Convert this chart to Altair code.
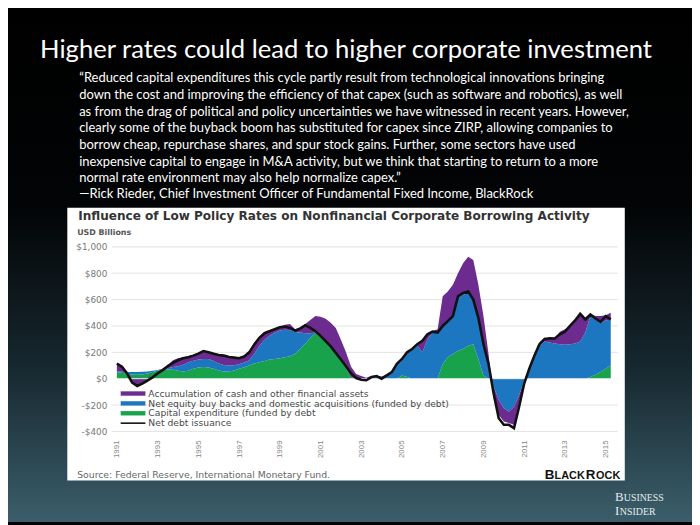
import altair as alt
import pandas as pd

# ---------------- data (quarterly, 1991Q1 .. 2015Q2), USD billions ----------------
quarters = [1991 + 0.25 * i for i in range(98)]

net_debt = [
    115, 90, 40, -30,
    -55, -38, -15, 10,
    40, 65, 95, 120,
    140, 155, 162, 175,
    190, 210, 200, 190,
    180, 175, 165, 160,
    155, 168, 200, 260,
    310, 345, 360, 375,
    390, 395, 385, 365,
    380, 405, 385, 360,
    325, 285, 245, 195,
    145, 95, 40, 5,
    -8, -12, 12, 20,
    0, 25, 50, 112,
    150, 200, 225, 262,
    287, 337, 357, 350,
    400, 437, 475, 625,
    650, 662, 600, 462,
    262, 112, -112, -300,
    -350, -350, -375, -212,
    -37, 75, 175, 262,
    300, 307, 305, 337,
    357, 400, 442, 492,
    450, 487, 457, 432,
    475, 450]

capex = [
    50, 45, 38, 32,
    30, 32, 40, 50,
    60, 65, 70, 68,
    60, 55, 60, 75,
    85, 88, 85, 75,
    62, 55, 55, 62,
    75, 87, 100, 115,
    125, 135, 145, 150,
    155, 162, 170, 190,
    225, 265, 310, 345,
    320, 285, 245, 195,
    145, 80, 10, 0,
    0, 0, 0, 0,
    0, 0, 0, 0,
    25, 12, 0, 0,
    0, 0, 0, 0,
    112, 162, 187, 212,
    225, 250, 262, 150,
    25, 0, 0, 0,
    0, 0, 0, 0,
    0, 0, 0, 0,
    0, 0, 0, 0,
    0, 0, 0, 0,
    0, 12, 30, 50,
    75, 100]

buybacks = [
    5, 8, 12, 18,
    20, 20, 15, 10,
    5, 5, 10, 20,
    35, 50, 65, 62,
    60, 62, 65, 60,
    53, 48, 45, 40,
    35, 35, 40, 75,
    125, 160, 180, 200,
    210, 210, 200, 165,
    125, 80, 35, 5,
    0, 0, 0, 0,
    0, 0, 0, 0,
    0, 0, 5, 12,
    7, 20, 50, 100,
    112, 175, 217, 250,
    200, 300, 350, 362,
    288, 275, 288, 400,
    412, 400, 325, 300,
    237, 87, -62, -162,
    -225, -250, -212, -125,
    -12, 75, 175, 250,
    282, 275, 267, 262,
    257, 262, 267, 282,
    350, 463, 420, 375,
    367, 350]

cash = [
    60, 32, 5, -30,
    -50, -35, -15, 0,
    0, 5, 20, 52,
    60, 57, 45, 43,
    50, 62, 55, 60,
    70, 75, 72, 63,
    52, 53, 70, 85,
    70, 60, 45, 30,
    25, 38, 45, 20,
    40, 70, 100, 125,
    150, 170, 180, 190,
    150, 120, 80, 35,
    20, 8, 18, 13,
    10, 10, 5, 17,
    20, 18, 15, 17,
    92, 42, 12, 13,
    225, 225, 237, 188,
    238, 275, 313, 262,
    213, 100, -88, -113,
    -100, -87, -138, -50,
    -25, 7, 5, 25,
    30, 32, 38, 95,
    118, 138, 175, 210,
    112, 17, 25, 50,
    40, 50]

series_names = [
    "Capital expenditure (funded by debt",
    "Net equity buy backs and domestic acquisitions (funded by debt)",
    "Accumulation of cash and other financial assets",
]
series_colors = ["#17a24b", "#1d77c0", "#6c2b8f"]
line_name = "Net debt issuance"

y_ticks = [-400, -200, 0, 200, 400, 600, 800, 1000]
x_ticks = [1991, 1993, 1995, 1997, 1999, 2001, 2003, 2005, 2007, 2009, 2011, 2013, 2015]

title_text = "Higher rates could lead to higher corporate investment"
quote_lines = [
    "\u201cReduced capital expenditures this cycle partly result from technological innovations bringing",
    "down the cost and improving the efficiency of that capex (such as software and robotics), as well",
    "as from the drag of political and policy uncertainties we have witnessed in recent years. However,",
    "clearly some of the buyback boom has substituted for capex since ZIRP, allowing companies to",
    "borrow cheap, repurchase shares, and spur stock gains. Further, some sectors have used",
    "inexpensive capital to engage in M&A activity, but we think that starting to return to a more",
    "normal rate environment may also help normalize capex.\u201d",
]
attribution = "\u2014Rick Rieder, Chief Investment Officer of Fundamental Fixed Income, BlackRock"
panel_title = "Influence of Low Policy  Rates on Nonfinancial Corporate Borrowing Activity"
unit_label = "USD Billions"
source_text = "Source: Federal Reserve, International Monetary Fund."
legend_order = [series_names[2], series_names[1], series_names[0], line_name]
legend_colors = [series_colors[2], series_colors[1], series_colors[0], "#111111"]

# ---------------- tables ----------------
rows = []
for k, (name, vals) in enumerate(zip(series_names, [capex, buybacks, cash])):
    for t, v in zip(quarters, vals):
        rows.append({"t": t, "v": v, "s": name, "o": k})
area_df = pd.DataFrame(rows)
line_df = pd.DataFrame({"t": quarters, "v": net_debt})
grid_df = pd.DataFrame({"v": y_ticks})
zero_df = pd.DataFrame({"v": [0]})
one = pd.DataFrame({"a": [0]})

# ---------------- geometry ----------------
W, H = 512, 200
PADL, PADT, PADR, PADB = 105, 232, 75, 85

x_scale = alt.Scale(domain=[1990.75, 2015.6], nice=False, zero=False)
y_scale = alt.Scale(domain=[-450, 1050], nice=False, zero=False)
x_axis = alt.Axis(values=x_ticks, format="d", labelAngle=-90, grid=False, domain=False,
                  ticks=False, title=None, labelFontSize=8, labelColor="#888888",
                  labelFont="Liberation Sans", labelPadding=2, zindex=1, labelOverlap=False)
y_axis = alt.Axis(values=y_ticks, grid=False, domain=False, ticks=False, title=None,
                  labelExpr="datum.value < 0 ? '-$' + format(-datum.value, ',') : '$' + format(datum.value, ',')",
                  labelFontSize=9, labelColor="#777777", labelFont="DejaVu Sans",
                  labelPadding=5, zindex=1, labelOverlap=False, labelBound=False, labelFlush=False)

X = alt.X("t:Q", scale=x_scale, axis=x_axis)
Y = alt.Y("v:Q", scale=y_scale, axis=y_axis)

# background gradient
bg = alt.Chart(one).mark_rect(
    color=alt.LinearGradient(
        gradient="linear", x1=0, x2=0, y1=0, y2=1,
        stops=[alt.GradientStop(color="#000000", offset=0),
               alt.GradientStop(color="#020405", offset=0.38),
               alt.GradientStop(color="#172830", offset=0.7),
               alt.GradientStop(color="#3b5e6a", offset=1)])
).encode(x=alt.value(-PADL), x2=alt.value(W + PADR), y=alt.value(-PADT), y2=alt.value(H + PADB))

panel = alt.Chart(one).mark_rect(color="white").encode(
    x=alt.value(-45), x2=alt.value(519), y=alt.value(-33), y2=alt.value(243))

grid = alt.Chart(grid_df).mark_rule(color="#e2e2e2", strokeWidth=1).encode(
    y=Y, x=alt.value(0), x2=alt.value(W))

areas = alt.Chart(area_df).mark_area(interpolate="linear").encode(
    x=X,
    y=alt.Y("v:Q", scale=y_scale, axis=y_axis, stack="zero"),
    color=alt.Color("s:N", scale=alt.Scale(domain=series_names, range=series_colors), legend=None),
    order=alt.Order("o:Q"),
)

zero_rule = alt.Chart(zero_df).mark_rule(color="white", strokeWidth=1, opacity=0.85).encode(
    y=Y, x=alt.value(0), x2=alt.value(W))

line = alt.Chart(line_df).mark_line(color="#111111", strokeWidth=2.6, interpolate="linear").encode(
    x=X, y=Y)

layers = [bg, panel, grid, areas, zero_rule, line]

def txt(s, x, y, size, color, font, weight="normal", align="left"):
    return alt.Chart(one).mark_text(
        fontSize=size, color=color, font=font, fontWeight=weight, align=align, baseline="alphabetic"
    ).encode(x=alt.value(x), y=alt.value(y), text=alt.value(s))

# slide title and quote
layers.append(txt(title_text, 237, -184, 25.9, "white", "Lato", align="center"))
for i, ln in enumerate(quote_lines):
    layers.append(txt(ln, -33, -160 + 16.9 * i, 13.1, "white", "Lato"))
layers.append(txt(attribution, -33, -43, 13.1, "white", "Lato"))

# panel texts
layers.append(txt(panel_title, -34, -21, 12.2, "#333333", "DejaVu Sans", weight="bold"))
layers.append(txt(unit_label, -35, -5, 8, "#555555", "DejaVu Sans", weight="bold"))
layers.append(txt(source_text, -35, 240, 9.4, "#666666", "DejaVu Sans"))

# legend
for i, (lab, col) in enumerate(zip(legend_order, legend_colors)):
    yy = 155 + 10 * i
    if i < 3:
        sw = alt.Chart(one).mark_rect(color=col).encode(
            x=alt.value(9), x2=alt.value(34), y=alt.value(yy - 2.2), y2=alt.value(yy + 2.2))
    else:
        sw = alt.Chart(one).mark_rule(color=col, strokeWidth=1.6).encode(
            x=alt.value(9), x2=alt.value(34), y=alt.value(yy))
    layers.append(sw)
    layers.append(txt(lab, 37, yy + 3.2, 9.3, "#4a4a4a", "DejaVu Sans"))

# BlackRock logo text (small caps)
br_parts = [("B", 438, 13.5), ("LACK", 448, 11), ("R", 479.5, 13.5), ("OCK", 490, 11)]
for s, xx, fs in br_parts:
    layers.append(txt(s, xx, 241, fs, "#111111", "Liberation Sans", weight="bold"))

# Business Insider logo text (small caps)
bi_parts = [("B", 509, 264, 13), ("USINESS", 518, 264, 10), ("I", 509, 278, 13), ("NSIDER", 514, 278, 10)]
for s, xx, yy, fs in bi_parts:
    layers.append(txt(s, xx, yy, fs, "#e4ebee", "Liberation Serif"))

chart = alt.layer(*layers).properties(
    width=W, height=H,
    autosize=alt.AutoSizeParams(type="none"),
    padding={"left": PADL, "top": PADT, "right": PADR, "bottom": PADB},
    background="#000000",
).configure_view(stroke=None).configure_axis(labelOverlap=False)

chart.save("out.html", embed_options={"renderer": "svg", "actions": False})
